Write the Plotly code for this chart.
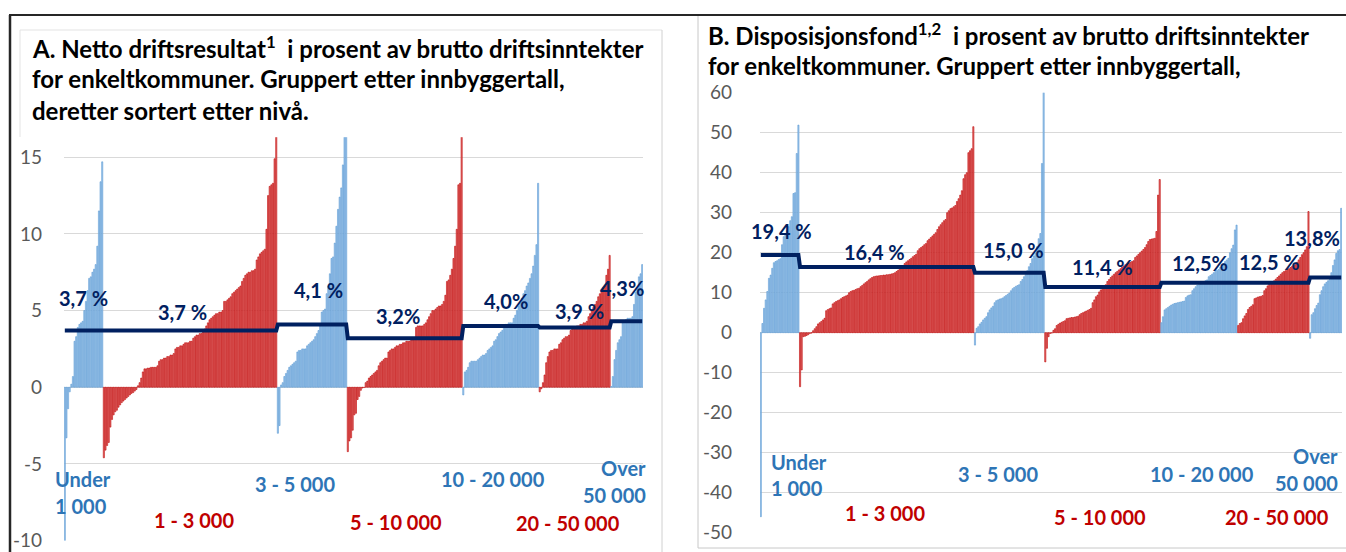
import plotly.graph_objects as go

W, H = 1346, 552
FONT = "Lato, 'Open Sans', sans-serif"

# ---------------- data ----------------
group_names = ["Under<br>1 000", "1 - 3 000", "3 - 5 000", "5 - 10 000",
               "10 - 20 000", "20 - 50 000", "Over<br>50 000"]
group_kind = ["blue", "red", "blue", "red", "blue", "red", "blue"]

# Panel A: netto driftsresultat (% av brutto driftsinntekter), sorted within group
A_under_1000 = [-10.5, -3.3, -1.4, -0.3, 0.2, 0.7, 3.0, 3.3, 3.9, 4.1, 4.2, 4.3, 5.0, 5.6, 6.3,
                7.1, 7.2, 7.5, 7.7, 8.0, 9.2, 11.5, 13.4, 14.7]
A_1_3000 = [-4.6, -4.1, -3.8, -3.6, -2.6, -2.1, -1.8, -1.6, -1.5, -1.3, -1.15, -1.0, -0.9, -0.8,
            -0.7, -0.6, -0.5, -0.4, -0.35, -0.25, -0.15,
            0.1, 0.3, 0.6, 1.0, 1.2, 1.2, 1.25, 1.25, 1.3, 1.3, 1.3, 1.3, 1.4,
            1.7, 1.8, 1.8, 1.9, 1.9, 2.0, 2.0, 2.1, 2.1, 2.2, 2.5, 2.6, 2.6, 2.7, 2.7,
            2.8, 2.9, 2.9, 2.9, 3.0, 3.0, 3.2, 3.3, 3.4, 3.4, 3.5, 3.5, 3.6,
            3.8, 4.0, 4.2, 4.4, 4.5, 4.6, 4.7, 4.8, 4.8, 4.9, 4.9, 5.0,
            5.6, 5.6, 5.7, 5.8, 5.9, 6.1, 6.2, 6.3, 6.4, 6.5, 6.6,
            6.9, 7.1, 7.3, 7.4, 7.5, 7.5, 7.6, 7.6, 7.7, 8.3, 8.5, 8.7, 8.8, 8.9, 9.0,
            10.3, 12.5, 13.1, 13.2, 13.3, 14.9, 16.5]
A_3_5000 = [-3.0, -2.5, 0.15, 0.3, 0.7, 0.9, 1.1, 1.3, 1.4, 1.5, 1.6, 1.7, 2.3, 2.4, 2.4, 2.5,
            2.5, 2.5, 2.7, 2.8, 2.9, 3.0, 3.1, 3.3, 3.5, 3.7, 4.0, 4.9, 5.0, 5.1, 6.1, 6.6,
            7.4, 8.4, 8.5, 9.4, 10.5, 11.6, 12.4, 13.0, 14.5, 18.0, 20.0]
A_5_10000 = [-4.2, -3.5, -3.3, -2.8, -1.8, -1.7, -0.8, -0.6, -0.2, -0.05, -0.02,
             0.3, 0.4, 0.6, 0.7, 0.8, 0.9, 1.0, 1.1, 1.4, 1.6, 1.7, 1.8, 1.9, 1.9,
             2.3, 2.4, 2.5, 2.5, 2.6, 2.7, 2.7, 2.8, 2.8, 2.9, 2.9, 3.0, 3.0, 3.0, 3.1, 3.1, 3.2,
             3.9, 4.0, 4.0, 4.0, 4.0, 4.1, 4.2, 4.4, 4.6, 4.8, 5.0, 5.0, 5.1,
             5.2, 5.3, 5.3, 5.4, 5.6, 6.0, 6.9, 7.0, 7.3, 7.7, 8.4, 9.2,
             10.3, 13.2, 13.3, 20.0]
A_10_20000 = [-0.5, 1.0, 1.1, 1.3, 1.6, 1.7, 1.7, 1.7, 1.7, 1.8, 1.9, 2.0, 2.1, 2.1, 2.2,
              2.4, 2.5, 2.6, 2.7, 3.0, 3.1, 3.3, 3.5, 3.6, 3.7, 4.0, 4.1, 4.1, 4.2, 4.2, 4.2,
              4.5, 4.7, 5.0, 5.3, 5.5, 5.8, 6.1, 6.3, 6.6, 6.8, 7.1, 7.4, 7.9, 8.6, 9.3, 13.3]
A_20_50000 = [-0.3, -0.1, 0.3, 0.8, 1.6, 2.0, 2.3, 2.4, 2.4, 2.5, 2.5, 2.5, 2.8, 2.9,
              3.1, 3.2, 3.3, 3.3, 3.4, 3.7, 3.8, 3.9, 3.9, 4.0, 4.0, 4.1, 4.1, 4.2, 4.2, 4.3,
              4.6, 4.8, 5.0, 5.2, 5.4, 5.6, 5.9, 6.1, 6.3, 6.5, 6.6, 7.3, 7.7, 8.6]
A_over_50000 = [0.05, 0.7, 1.8, 2.4, 2.9, 3.1, 3.3, 4.2, 4.3, 4.4, 4.5, 4.5, 4.5, 4.6,
                5.4, 6.2, 6.5, 7.2, 7.4, 8.0]
A_means = [3.7, 3.7, 4.1, 3.2, 4.0, 3.9, 4.3]
A_mean_labels = ["3,7 %", "3,7 %", "4,1 %", "3,2%", "4,0%", "3,9 %", "4,3%"]

# Panel B: disposisjonsfond (% av brutto driftsinntekter), sorted within group
B_under_1000 = [-46.0, 2.3, 6.1, 8.2, 10.3, 13.6, 14.4, 16.1, 17.5, 17.8, 18.0, 18.3, 18.5,
                22.0, 24.0, 24.8, 25.5, 26.5, 28.0, 29.0, 34.8, 35.0, 44.8, 51.9]
B_1_3000 = [-13.5, -9.3, -1.0, -0.9, -0.7, -0.5, -0.2, -0.1,
            0.5, 1.0, 1.5, 2.2, 2.5, 2.8, 3.2, 3.6, 5.5, 5.8, 6.0, 6.2,
            7.2, 7.5, 7.8, 8.0, 8.2, 8.5, 8.8, 9.0, 9.2, 9.4,
            10.0, 10.3, 10.5, 10.6, 10.8, 11.0, 11.1, 11.5, 11.8, 12.2, 12.5,
            12.8, 13.2, 13.5, 13.8, 14.0, 14.1, 14.2, 14.2, 14.3, 14.3, 14.4, 14.4, 14.5, 14.5,
            14.6, 14.7, 14.8, 15.0, 15.3, 15.6, 16.0, 16.4, 16.8, 17.3, 17.7,
            18.0, 18.3, 18.6, 19.0, 19.3, 19.6, 20.5, 21.0, 21.3, 21.6, 22.0, 22.3,
            23.0, 23.4, 23.8, 24.2, 24.6, 25.0, 25.8, 26.5, 27.0, 27.5, 28.0, 28.3,
            30.0, 30.5, 31.0, 31.2, 31.5, 31.8, 32.8, 33.5, 34.4, 35.5,
            38.5, 39.5, 40.0, 45.0, 45.5, 46.0, 51.5]
B_3_5000 = [-3.1, 1.1, 1.5, 2.2, 2.6, 3.2, 3.6, 4.0, 5.0, 5.7, 6.2, 6.6, 7.5, 8.0, 8.2, 8.4,
            8.5, 8.7, 9.0, 9.3, 9.6, 9.9, 10.5, 11.0, 11.3, 11.6, 11.8, 12.0, 12.8, 13.3,
            14.0, 14.5, 15.5, 16.5, 17.3, 18.5, 19.2, 19.8, 21.5, 23.5, 24.8, 42.3, 62.0]
B_5_10000 = [-7.3, -3.9, -1.0, -0.2, -0.1,
             0.6, 1.0, 1.8, 2.1, 2.4, 2.6, 2.8, 3.0, 3.5, 3.6, 3.7, 3.8, 3.8, 3.9, 4.0, 4.1,
             4.5, 4.8, 5.0, 5.2, 5.4, 5.6, 5.8, 6.1, 7.5, 8.2, 9.0, 9.4,
             10.2, 10.7, 11.2, 11.6, 12.0, 12.8, 13.3, 13.8, 14.2, 14.6,
             15.0, 15.3, 15.7, 16.0, 16.4, 16.7, 17.0, 17.2, 17.4, 17.6, 17.8, 18.0,
             18.8, 19.2, 19.6, 20.0, 20.4, 20.8, 21.3, 22.0, 22.8, 23.3, 23.4, 23.5, 23.6,
             25.3, 34.4, 38.3]
B_10_20000 = [2.5, 4.0, 5.7, 6.0, 6.3, 6.6, 6.9, 7.1, 7.3, 7.4, 7.5, 7.6, 7.7, 7.8, 7.9,
              8.8, 9.2, 9.4, 9.5, 10.5, 11.0, 11.5, 11.9, 12.0, 12.2, 12.5, 12.8, 13.0, 13.2,
              14.0, 14.3, 14.6, 15.0, 15.3, 15.6, 15.8, 16.3, 16.8, 17.3, 17.8, 18.2, 18.6,
              20.0, 21.0, 21.9, 25.7, 26.9]
B_20_50000 = [1.8, 2.3, 2.5, 3.5, 4.2, 4.8, 5.8, 6.3, 6.6, 7.0, 8.5, 8.7, 8.9, 9.0, 9.1, 9.3,
              10.5, 11.0, 11.7, 12.2, 12.6, 12.8, 13.0, 13.4, 13.8, 14.2, 14.6, 15.0,
              15.3, 15.5, 15.8, 16.0, 16.3, 16.6, 16.8, 17.0, 17.6, 18.2, 18.8, 19.5, 20.0,
              20.7, 21.5, 30.3]
B_over_50000 = [-1.4, 4.5, 5.0, 6.0, 6.8, 7.4, 9.5, 10.5, 11.5, 12.2, 12.6, 13.0, 13.3,
                15.0, 16.8, 18.2, 19.8, 20.5, 20.8, 31.1]
B_means = [19.4, 16.4, 15.0, 11.4, 12.5, 12.5, 13.8]
B_mean_labels = ["19,4 %", "16,4 %", "15,0 %", "11,4 %", "12,5%", "12,5 %", "13,8%"]

A_ticks = [-10, -5, 0, 5, 10, 15]
B_ticks = [-50, -40, -30, -20, -10, 0, 10, 20, 30, 40, 50, 60]

# ---------------- styling ----------------
BAR_FILL = {"blue": "#A6C9EA", "red": "#E57A7A"}
BAR_EDGE = {"blue": "#5B9BD5", "red": "#C00000"}
TXT_COL = {"blue": "#2E75B6", "red": "#C00000"}
NAVY = "#002060"

A_groups = [A_under_1000, A_1_3000, A_3_5000, A_5_10000, A_10_20000, A_20_50000, A_over_50000]
B_groups = [B_under_1000, B_1_3000, B_3_5000, B_5_10000, B_10_20000, B_20_50000, B_over_50000]

fig = go.Figure()


def add_panel(groups, means, xa, ya):
    idx = 0
    lx, ly = [], []
    for vals, kind, m in zip(groups, group_kind, means):
        xs = list(range(idx, idx + len(vals)))
        fig.add_trace(go.Bar(x=xs, y=vals,
                             marker=dict(color=BAR_FILL[kind],
                                         line=dict(width=0.6, color=BAR_EDGE[kind])),
                             xaxis=xa, yaxis=ya, showlegend=False, hoverinfo="skip"))
        lx.extend(xs)
        ly.extend([m] * len(vals))
        idx += len(vals)
    fig.add_trace(go.Scatter(x=lx, y=ly, mode="lines", line=dict(color=NAVY, width=4),
                             xaxis=xa, yaxis=ya, showlegend=False, hoverinfo="skip"))
    return idx


nA = add_panel(A_groups, A_means, "x", "y")
nB = add_panel(B_groups, B_means, "x2", "y2")


def px(x):
    return x / W


def py(y):
    return 1 - y / H


tickfont = dict(family=FONT, size=19, color="#595959")
fig.update_layout(
    width=W, height=H, margin=dict(l=0, r=0, t=0, b=0, autoexpand=False),
    paper_bgcolor="white", plot_bgcolor="white",
    barmode="overlay", bargap=0.3,
    xaxis=dict(domain=[px(64), px(643)], range=[-0.5, nA - 0.5], visible=False, anchor="y"),
    yaxis=dict(domain=[py(540.6), py(137.3)], range=[-10, 16.3], anchor="x",
               tickvals=A_ticks, ticktext=[str(t) for t in A_ticks], tickfont=tickfont,
               showgrid=True, gridcolor="#D9D9D9", gridwidth=1,
               zeroline=True, zerolinecolor="#D9D9D9", zerolinewidth=1,
               showline=False, ticks="", ticklabelstandoff=21),
    xaxis2=dict(domain=[px(760), px(1342)], range=[-0.5, nB - 0.5], visible=False, anchor="y2"),
    yaxis2=dict(domain=[py(532.7), py(92.7)], range=[-50, 60], anchor="x2",
                tickvals=B_ticks, ticktext=[str(t) for t in B_ticks], tickfont=tickfont,
                showgrid=True, gridcolor="#D9D9D9", gridwidth=1,
                zeroline=True, zerolinecolor="#D9D9D9", zerolinewidth=1,
                showline=False, ticks="", ticklabelstandoff=27),
)

anns = []


def ann(text, x, y, size, color, xanchor="center"):
    anns.append(dict(text=text, x=px(x), y=py(y), xref="paper", yref="paper",
                     xanchor=xanchor, yanchor="middle", showarrow=False,
                     font=dict(family=FONT, size=size, color=color)))


# titles
TITLE_COL = "#000000"
TS = 24
ann("<b>A. Netto driftsresultat<sup>1</sup>  i prosent av brutto driftsinntekter</b>", 30, 47, TS, TITLE_COL, "left")
ann("<b>for enkeltkommuner. Gruppert etter innbyggertall,</b>", 30, 79, TS, TITLE_COL, "left")
ann("<b>deretter sortert etter nivå.</b>", 30, 110, TS, TITLE_COL, "left")
ann("<b>B. Disposisjonsfond<sup>1,2</sup>  i prosent av brutto driftsinntekter</b>", 706, 34, TS, TITLE_COL, "left")
ann("<b>for enkeltkommuner. Gruppert etter innbyggertall,</b>", 706, 66, TS, TITLE_COL, "left")

# mean labels
MS = 20
A_mean_pos = [(83, 298), (183, 311.7), (318.5, 290), (397.5, 316), (505.5, 301), (579, 311), (621.7, 288.3)]
B_mean_pos = [(781, 230.7), (874.5, 251.7), (1013, 250), (1102, 267.3), (1200.3, 262.7), (1269.7, 261.7), (1312, 238.3)]
for lab, (x, y) in zip(A_mean_labels, A_mean_pos):
    ann(f"<b>{lab}</b>", x, y, MS, NAVY)
for lab, (x, y) in zip(B_mean_labels, B_mean_pos):
    ann(f"<b>{lab}</b>", x, y, MS, NAVY)

# group labels
GS = 20
A_grp_pos = [(53, 479, 506, "left"), (194.5, 520), (295, 484), (396, 521.7), (493.3, 478.7),
             (568, 523), (648, 467.7, 495, "right")]
B_grp_pos = [(769, 461.7, 488.3, "left"), (885, 513.3), (998, 474), (1099.5, 517.3), (1202.3, 474),
             (1276.7, 517.3), (1340, 456, 483.3, "right")]
for pos_list in (A_grp_pos, B_grp_pos):
    for name, kind, pos in zip(group_names, group_kind, pos_list):
        parts = name.split("<br>")
        if len(parts) == 2:
            x, y1, y2, anchor = pos
            ann(f"<b>{parts[0]}</b>", x, y1, GS, TXT_COL[kind], anchor)
            ann(f"<b>{parts[1]}</b>", x, y2, GS, TXT_COL[kind], anchor)
        else:
            x, y = pos
            ann(f"<b>{name}</b>", x, y, GS, TXT_COL[kind])

fig.update_layout(annotations=anns)

# frames
shapes = []


def line(x0, y0, x1, y1, color, width):
    shapes.append(dict(type="line", xref="paper", yref="paper", x0=px(x0), y0=py(y0),
                       x1=px(x1), y1=py(y1), line=dict(color=color, width=width), layer="below"))


line(9, 15, 1346, 15, "#262626", 2)
line(10, 15, 10, 552, "#262626", 2.5)
line(20, 30, 662, 30, "#E3E3E3", 1)
line(20, 30, 20, 137, "#E3E3E3", 1)
line(662, 30, 662, 552, "#D0D0D0", 1)
line(698, 16, 698, 548, "#C8C8C8", 1)
line(698, 548, 1346, 548, "#C8C8C8", 1)
fig.update_layout(shapes=shapes)

fig.write_html("out.html", config={"displayModeBar": False},
               post_script="document.body.style.margin='0';document.body.style.overflow='hidden';")
